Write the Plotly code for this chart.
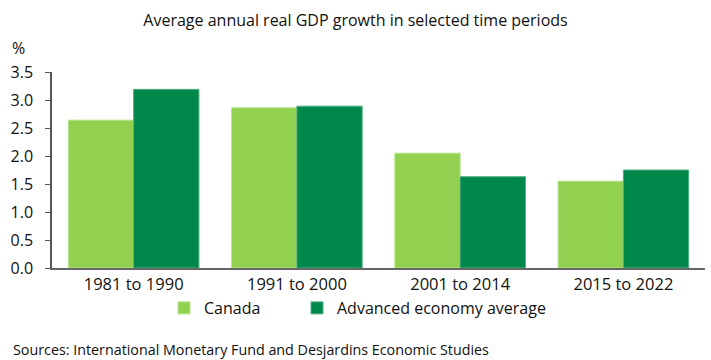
import plotly.graph_objects as go

periods = ["1981 to 1990", "1991 to 2000", "2001 to 2014", "2015 to 2022"]
canada = [2.64, 2.86, 2.05, 1.55]
advanced = [3.19, 2.89, 1.63, 1.75]
y_ticks = [0.0, 0.5, 1.0, 1.5, 2.0, 2.5, 3.0, 3.5]

FONT = "Open Sans"
LIGHT = "#92D050"
DARK = "#00874A"

# plot area: 653 x 196 px, left edge at 52 px
PL, PW, PH = 52, 653, 196


def px_x(px):
    return (px - PL) / PW


fig = go.Figure()
fig.add_trace(go.Bar(x=periods, y=canada, name="Canada", legend="legend",
                     marker=dict(color=LIGHT, line=dict(color="#B4E28A", width=1))))
fig.add_trace(go.Bar(x=periods, y=advanced, name="Advanced economy average",
                     legend="legend2",
                     marker=dict(color=DARK, line=dict(color="#4FAE80", width=1))))

legend_common = dict(orientation="h", y=-40 / PH, yanchor="middle", xanchor="left",
                     font=dict(size=16), itemwidth=30, bgcolor="rgba(0,0,0,0)")

fig.update_layout(
    width=711, height=360,
    margin=dict(l=PL, r=6, t=72, b=92),
    paper_bgcolor="white", plot_bgcolor="white",
    barmode="group", bargap=0.2, bargroupgap=0,
    font=dict(family=FONT, size=16, color="#111"),
    title=dict(text="Average annual real GDP growth in selected time periods",
               x=0.5, xanchor="center", y=1 - 20 / 360, yanchor="middle",
               font=dict(size=16, family=FONT, color="#111")),
    showlegend=True,
    legend=dict(x=px_x(164), **legend_common),
    legend2=dict(x=px_x(297), **legend_common),
    xaxis=dict(showline=True, linecolor="#666", linewidth=1.5, ticks="",
               tickfont=dict(size=16.5)),
    yaxis=dict(range=[0, 3.5], tickvals=y_ticks,
               ticktext=[f"{v:.1f}" for v in y_ticks],
               showline=True, linecolor="#555", linewidth=1.5,
               ticks="outside", ticklen=5, tickcolor="#555",
               ticklabelstandoff=9,
               showgrid=False, zeroline=False, tickfont=dict(size=16)),
    annotations=[
        dict(text="%", xref="paper", yref="paper", x=-PL / PW, xanchor="left",
             y=1 + 24.5 / PH, yanchor="middle", showarrow=False,
             font=dict(size=16), xshift=10),
        dict(text="Sources: International Monetary Fund and Desjardins Economic Studies",
             xref="paper", yref="paper", x=-PL / PW, xanchor="left",
             y=-81 / PH, yanchor="middle", showarrow=False,
             font=dict(size=14.3), xshift=11),
    ],
)

fig.write_html("out.html")
